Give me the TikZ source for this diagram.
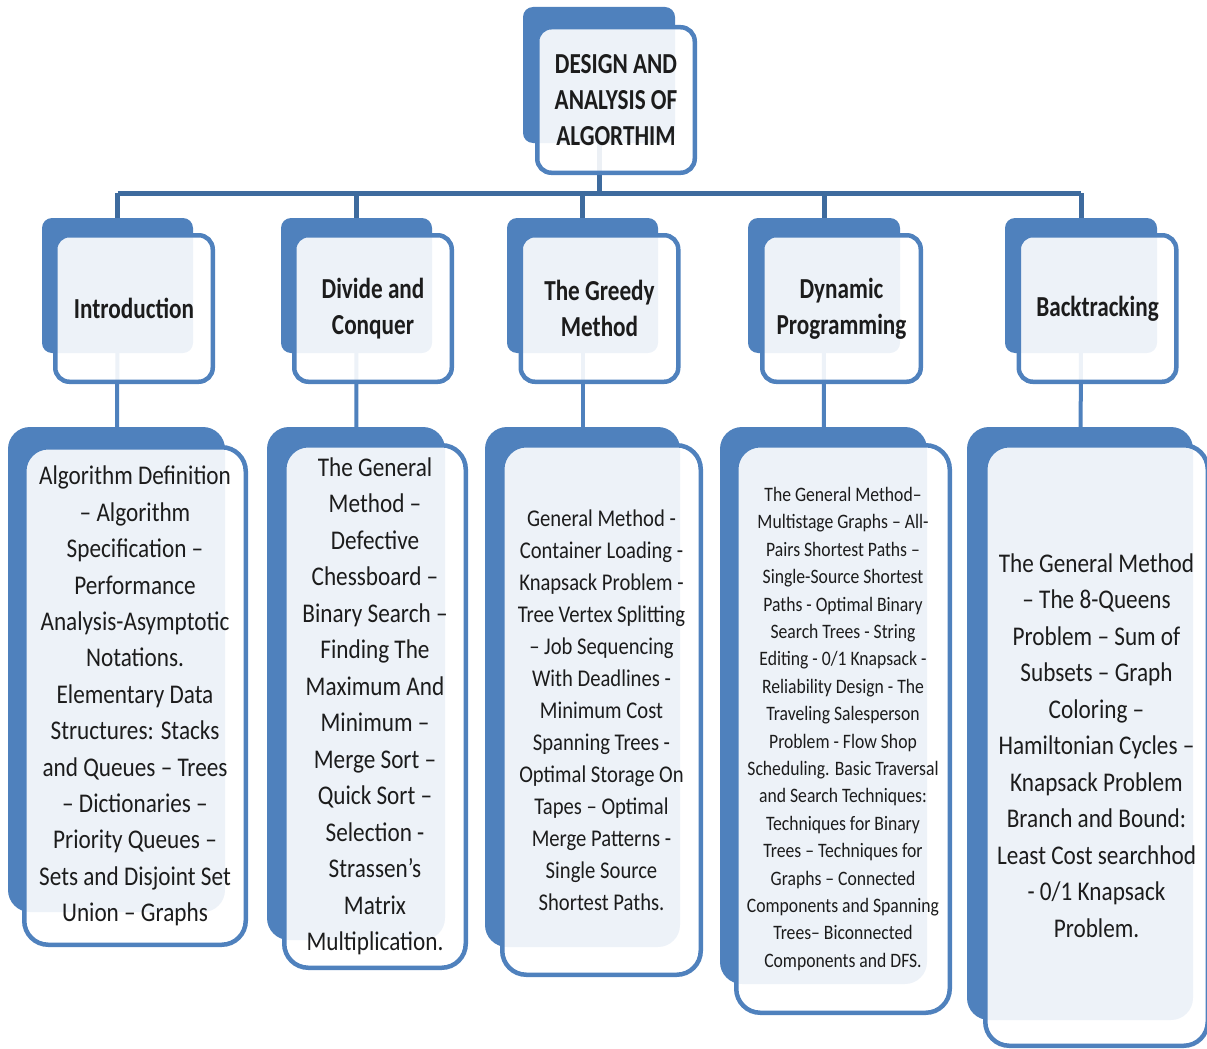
\documentclass[tikz,border=0pt]{standalone}
\usepackage{fontspec}
\usetikzlibrary{backgrounds}
\newfontfamily\headfont[FakeStretch=0.8]{Carlito}
\newfontfamily\cardfont[FakeStretch=0.86]{Carlito}
\definecolor{cardblue}{HTML}{4F81BD}
\definecolor{trunkblue}{HTML}{3E6B9E}
\definecolor{ink}{HTML}{1C1C1C}

\begin{document}
\begin{tikzpicture}[x=1pt, y=-1pt,
  backcard/.style={fill=cardblue, draw=none, rounded corners=#1, inner sep=0pt},
  backcard/.default=10pt,
  frontcard/.style={fill=white, fill opacity=0.9, text opacity=1, draw=cardblue,
    line width=4.5pt, rounded corners=#1, inner sep=0pt, align=center, text=ink},
  frontcard/.default=14pt,
  headsize/.style={font=\headfont\bfseries\fontsize{29}{36}\selectfont},
  trunk/.style={draw=trunkblue, line width=5pt},
  link/.style={draw=cardblue, line width=4pt},
]
\useasboundingbox (0,0) rectangle (1207,1049);

% ---------- root ----------
\node[backcard, minimum width=152pt, minimum height=136pt] (rootB) at (599,75) {};
\node[frontcard, minimum width=157.5pt, minimum height=145.5pt, headsize] (root) at (616,100)
  {DESIGN AND\\ANALYSIS OF\\ALGORTHIM};

% ---------- second level ----------
\node[backcard, minimum width=151pt, minimum height=135pt] (introB)     at (117.5,285.5) {};
\node[backcard, minimum width=151pt, minimum height=135pt] (divideB)    at (356.5,285.5) {};
\node[backcard, minimum width=151pt, minimum height=135pt] (greedyB)    at (582.5,285.5) {};
\node[backcard, minimum width=152pt, minimum height=135pt] (dynamicB)   at (824,285.5) {};
\node[backcard, minimum width=152pt, minimum height=135pt] (backtrackB) at (1081,285.5) {};

\node[frontcard, minimum width=157.5pt, minimum height=146.5pt, headsize] (intro)     at (134,308.5)   {Introduction};
\node[frontcard, minimum width=157.5pt, minimum height=146.5pt, headsize] (divide)    at (373,308.5)   {Divide and\\Conquer};
\node[frontcard, minimum width=157.5pt, minimum height=146.5pt, headsize] (greedy)    at (599.5,308.5) {The Greedy\\Method};
\node[frontcard, minimum width=158.5pt, minimum height=146.5pt, headsize] (dynamic)   at (841.5,308.5) {Dynamic\\Programming};
\node[frontcard, minimum width=157.5pt, minimum height=146.5pt, headsize] (backtrack) at (1097.5,308.5) {Backtracking};

% ---------- third level ----------
\node[backcard=22pt, minimum width=217pt, minimum height=485pt] (introDB)     at (116.5,669.5) {};
\node[backcard=22pt, minimum width=178pt, minimum height=513pt] (divideDB)    at (356,683.5) {};
\node[backcard=22pt, minimum width=195pt, minimum height=520pt] (greedyDB)    at (582.5,687) {};
\node[backcard=22pt, minimum width=207pt, minimum height=557pt] (dynamicDB)   at (823.5,705.5) {};
\node[backcard=22pt, minimum width=226pt, minimum height=593pt] (backtrackDB) at (1080,723.5) {};

\node[frontcard=24pt, minimum width=221.5pt, minimum height=497.5pt,
      font=\cardfont\fontsize{27}{36.4}\selectfont] (introD) at (135,696)
  {Algorithm Definition\\ – Algorithm\\ Specification –\\ Performance\\ Analysis-Asymptotic\\ Notations.\\
   Elementary Data\\ Structures: Stacks\\ and Queues – Trees\\ – Dictionaries –\\ Priority Queues –\\
   Sets and Disjoint Set\\ Union – Graphs};

\node[frontcard=24pt, minimum width=181.5pt, minimum height=522.5pt,
      font=\cardfont\fontsize{27}{36.5}\selectfont] (divideD) at (375,706.5)
  {The General\\ Method –\\ Defective\\ Chessboard –\\ Binary Search –\\ Finding The\\ Maximum And\\
   Minimum –\\ Merge Sort –\\ Quick Sort –\\ Selection -\\ Strassen’s\\ Matrix\\ Multiplication.};

\node[frontcard=24pt, minimum width=198.5pt, minimum height=529.5pt,
      font=\cardfont\fontsize{24}{32}\selectfont] (greedyD) at (601.5,710)
  {General Method -\\ Container Loading -\\ Knapsack Problem -\\ Tree Vertex Splitting\\ – Job Sequencing\\
   With Deadlines -\\ Minimum Cost\\ Spanning Trees -\\ Optimal Storage On\\ Tapes – Optimal\\
   Merge Patterns -\\ Single Source\\ Shortest Paths.};

\node[frontcard=24pt, minimum width=213.5pt, minimum height=567.5pt,
      font=\cardfont\fontsize{20.5}{27.4}\selectfont] (dynamicD) at (843,729)
  {The General Method–\\ Multistage Graphs – All-\\ Pairs Shortest Paths –\\ Single-Source Shortest\\
   Paths - Optimal Binary\\ Search Trees - String\\ Editing - 0/1 Knapsack -\\ Reliability Design - The\\
   Traveling Salesperson\\ Problem - Flow Shop\\ Scheduling. Basic Traversal\\ and Search Techniques:\\
   Techniques for Binary\\ Trees – Techniques for\\ Graphs – Connected\\ Components and Spanning\\
   Trees– Biconnected\\ Components and DFS.};

\node[frontcard=24pt, minimum width=222.5pt, minimum height=600.5pt,
      font=\cardfont\fontsize{27}{36.5}\selectfont] (backtrackD) at (1096.5,745.5)
  {The General Method\\ – The 8-Queens\\ Problem – Sum of\\ Subsets – Graph\\ Coloring –\\
   Hamiltonian Cycles –\\ Knapsack Problem\\ Branch and Bound:\\ Least Cost searchhod\\
   - 0/1 Knapsack\\ Problem.};

% ---------- connectors (behind the cards) ----------
\begin{scope}[on background layer]
  \coordinate (bar) at (0,193);
  \draw[trunk] (rootB.center) -- (rootB.center |- bar);
  \draw[trunk] (introB.center |- bar) -- (backtrackB.center |- bar);
  \foreach \n in {introB,divideB,greedyB,dynamicB,backtrackB}
    \draw[trunk] (\n.center |- bar) -- (\n.center);
  \draw[link] (introB.center)     -- (introDB.center);
  \draw[link] (divideB.center)    -- (divideDB.center);
  \draw[link] (greedyB.center)    -- (greedyDB.center);
  \draw[link] (dynamicB.center)   -- (dynamicDB.center);
  \draw[link] (backtrackB.center) -- (backtrackDB.center);
\end{scope}
\end{tikzpicture}
\end{document}
